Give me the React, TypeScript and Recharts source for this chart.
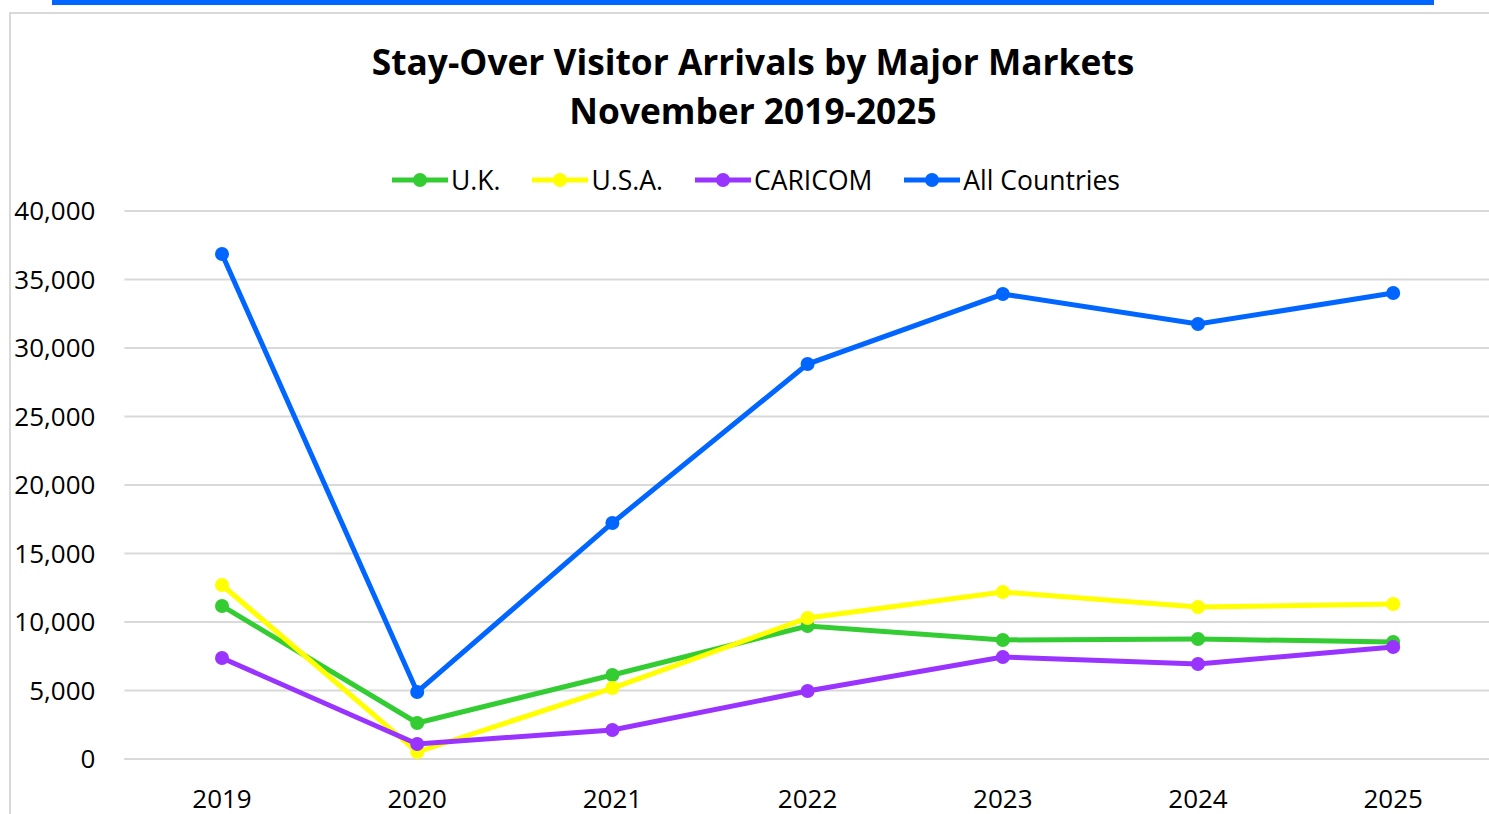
import { CartesianGrid, Legend, Line, LineChart, XAxis, YAxis } from "recharts";

const years = ["2019", "2020", "2021", "2022", "2023", "2024", "2025"];
const uk = [11170, 2630, 6130, 9710, 8690, 8760, 8540];
const usa = [12700, 510, 5180, 10290, 12190, 11090, 11310];
const caricom = [7370, 1090, 2120, 4960, 7450, 6930, 8180];
const allCountries = [36860, 4890, 17230, 28830, 33940, 31750, 34010];
const yTicks = [0, 5000, 10000, 15000, 20000, 25000, 30000, 35000, 40000];

const series = [
  { key: "uk", name: "U.K.", color: "#33cc33" },
  { key: "usa", name: "U.S.A.", color: "#ffff00" },
  { key: "caricom", name: "CARICOM", color: "#9933ff" },
  { key: "all", name: "All Countries", color: "#0066ff" },
];

const data = years.map((y, i) => ({
  year: y,
  uk: uk[i],
  usa: usa[i],
  caricom: caricom[i],
  all: allCountries[i],
}));

const FONT = "'Open Sans', 'Noto Sans', sans-serif";

function LegendContent() {
  return (
    <div
      style={{
        display: "flex",
        justifyContent: "center",
        gap: 32,
        fontFamily: FONT,
        fontSize: 26.5,
        color: "#000",
      }}
    >
      {series.map((s) => (
        <div key={s.key} style={{ display: "flex", alignItems: "center" }}>
          <svg width={56} height={16} style={{ marginRight: 3 }}>
            <line x1={0} y1={8} x2={56} y2={8} stroke={s.color} strokeWidth={5} />
            <circle cx={28} cy={8} r={7} fill={s.color} />
          </svg>
          <span>{s.name}</span>
        </div>
      ))}
    </div>
  );
}

export default function App() {
  return (
    <div
      style={{
        position: "absolute",
        left: 0,
        top: 0,
        width: 1489,
        height: 814,
        overflow: "hidden",
        background: "#fff",
      }}
    >
      <div
        style={{ position: "absolute", left: 52, top: 0, width: 1382, height: 5, background: "#0066ff" }}
      />
      <div
        style={{
          position: "absolute",
          left: 9,
          top: 12,
          width: 1520,
          height: 830,
          border: "2px solid #d9d9d9",
        }}
      />
      <div
        style={{
          position: "absolute",
          left: 0,
          top: 37,
          width: 1506,
          textAlign: "center",
          fontFamily: FONT,
          fontWeight: 700,
          fontSize: 35.3,
          lineHeight: "49px",
          color: "#000",
        }}
      >
        <div>Stay-Over Visitor Arrivals by Major Markets</div>
        <div>November 2019-2025</div>
      </div>
      <div style={{ position: "absolute", left: 0, top: 0 }}>
        <LineChart
          width={1500}
          height={814}
          data={data}
          margin={{ top: 211, right: 9.2, bottom: 15, left: 14.4 }}
        >
          <CartesianGrid vertical={false} stroke="#d9d9d9" strokeWidth={2} />
          <XAxis
            dataKey="year"
            padding={{ left: 97.6, right: 97.6 }}
            height={40}
            axisLine={{ stroke: "#d9d9d9", strokeWidth: 2 }}
            tickLine={false}
            tickSize={0}
            tickMargin={31}
            tick={{ fill: "#000", fontSize: 26, fontFamily: FONT }}
          />
          <YAxis
            width={110}
            domain={[0, 40000]}
            ticks={yTicks}
            axisLine={false}
            tickLine={false}
            tickSize={0}
            tickMargin={29}
            tickFormatter={(v: number) => v.toLocaleString("en-US")}
            tick={{ fill: "#000", fontSize: 26, fontFamily: FONT }}
          />
          <Legend
            verticalAlign="top"
            content={() => <LegendContent />}
            wrapperStyle={{ position: "absolute", top: 162, left: 0, width: 1512, height: 0, overflow: "visible" }}
          />
          {series.map((s) => (
            <Line
              key={s.key}
              type="linear"
              dataKey={s.key}
              name={s.name}
              stroke={s.color}
              strokeWidth={5}
              dot={{ r: 7, fill: s.color, stroke: "none" }}
              activeDot={false}
              isAnimationActive={false}
            />
          ))}
        </LineChart>
      </div>
    </div>
  );
}
